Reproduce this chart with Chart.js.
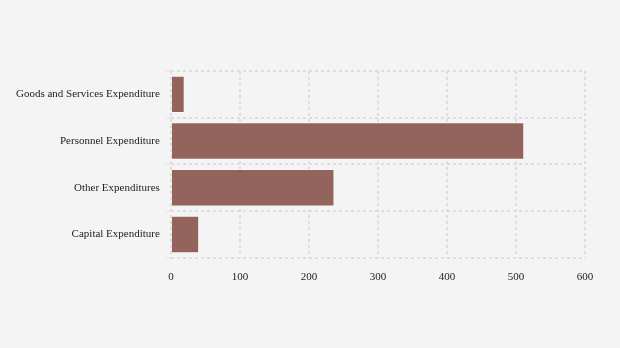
<!DOCTYPE html>
<html><head><meta charset="utf-8">
<script src="https://cdn.jsdelivr.net/npm/chart.js@4/dist/chart.umd.min.js"></script>
<style>html,body{margin:0;padding:0;background:#f4f4f4;}#wrap{width:620px;height:348px;}</style>
</head><body><div id="wrap"><canvas id="c" width="620" height="348"></canvas></div>
<script>
const categories = ["Goods and Services Expenditure", "Personnel Expenditure", "Other Expenditures", "Capital Expenditure"];
const values = [20, 512, 237, 41];
const xTicks = [0, 100, 200, 300, 400, 500, 600];

new Chart(document.getElementById('c'), {
  type: 'bar',
  data: { labels: categories, datasets: [{ data: values, backgroundColor: 'rgba(148,100,92,1)', borderColor: 'rgba(255,255,255,0.6)', borderWidth: 1, barPercentage: 0.8, categoryPercentage: 1 }] },
  options: {
    indexAxis: 'y', responsive: false, animation: false,
    layout: { padding: { top: 71, right: 35, bottom: 51, left: 10 } },
    plugins: { legend: { display: false }, tooltip: { enabled: false } },
    scales: {
      x: { min: 0, max: 600, afterBuildTicks: a => { a.ticks = xTicks.map(v => ({ value: v })); },
           grid: { color: '#dedede', drawTicks: false, lineWidth: 2 }, border: { display: false, dash: [3,3] },
           ticks: { padding: 13, color: '#222', font: { family: 'Liberation Serif', size: 11 } } },
      y: { grid: { color: '#dedede', lineWidth: 2, tickLength: 5, tickColor: '#e0e0e0', tickWidth: 1 }, border: { display: false, dash: [3,3] },
           ticks: { padding: 6, color: '#222', font: { family: 'Liberation Serif', size: 11 } } }
    }
  }
});
</script></body></html>
